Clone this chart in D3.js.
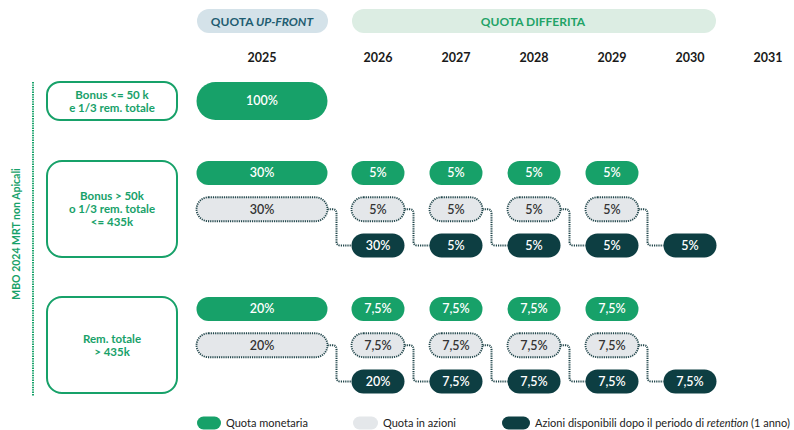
<!DOCTYPE html>
<html><head><meta charset="utf-8">
<script src="https://cdn.jsdelivr.net/npm/d3@7"></script>
<style>
html,body{margin:0;padding:0;background:#fff;}
svg{display:block;font-family:Lato,"Open Sans",sans-serif;}
</style></head>
<body><svg id="chart" width="794" height="430"></svg>
<script>
// ---- data ----
const years = ["2025","2026","2027","2028","2029","2030","2031"];
const groupLabels = [
  ["Bonus <= 50 k","e 1/3 rem. totale"],
  ["Bonus > 50k","o 1/3 rem. totale","<= 435k"],
  ["Rem. totale","> 435k"]
];
// cash (quota monetaria), from 2025
const cashValues = [[100],[30,5,5,5,5],[20,7.5,7.5,7.5,7.5]];
// shares (quota in azioni), from 2025
const shareValues = [[],[30,5,5,5,5],[20,7.5,7.5,7.5,7.5]];
// shares available after retention, from 2026
const releasedValues = [[],[30,5,5,5,5],[20,7.5,7.5,7.5,7.5]];
const headerLabels = ["QUOTA ", "UP-FRONT", "QUOTA DIFFERITA"];
const sideLabel = "MBO 2024 MRT non Apicali";
const legendLabels = ["Quota monetaria","Quota in azioni","Azioni disponibili dopo il periodo di ","retention"," (1 anno)"];

// ---- style ----
const C = {green:"#17a169", dark:"#0d3e42", grey:"#e4e7ea", dot:"#21464b",
  upBg:"#d4e2e9", upTx:"#1f5d71", difBg:"#dcede3", difTx:"#22a367", leg:"#222"};

const svg = d3.select("#chart");
const x = d3.scaleLinear().domain([2025, 2026, 2031]).range([262, 378, 768]);
const pillW = y => +y === 2025 ? 131 : 53;
const groupTop = [82, 161, 297];
const groupH = [38, 96, 96];
const rowY = d3.scalePoint().domain(["cash","shares","released"]).range([12, 84.5]);
const pillH = 24;
const fmt = v => (Number.isInteger(v) ? String(v) : d3.format(".1f")(v).replace(".", ",")) + "%";

// headers
svg.append("rect").attr("x",197).attr("y",9).attr("width",131).attr("height",24).attr("rx",12).attr("fill",C.upBg);
const h1 = svg.append("text").attr("x",262).attr("y",25.5).attr("text-anchor","middle")
  .attr("font-size",12).attr("font-weight",700).attr("fill",C.upTx);
h1.append("tspan").text(headerLabels[0]);
h1.append("tspan").attr("font-style","italic").text(headerLabels[1]);
svg.append("rect").attr("x",352).attr("y",9).attr("width",364).attr("height",24).attr("rx",12).attr("fill",C.difBg);
svg.append("text").attr("x",533).attr("y",25.5).attr("text-anchor","middle")
  .attr("font-size",12).attr("font-weight",700).attr("fill",C.difTx).text(headerLabels[2]);

// years
svg.selectAll("text.year").data(years).join("text").attr("class","year")
  .attr("x", d => x(+d)).attr("y", 61.5).attr("text-anchor","middle")
  .attr("font-size",12.5).attr("font-weight",700).attr("fill","#1a1a1a").text(d => d);

// side label + dotted line
svg.append("line").attr("x1",33).attr("x2",33).attr("y1",82).attr("y2",396)
  .attr("stroke",C.green).attr("stroke-width",2).attr("stroke-dasharray","1.4 1");
svg.append("text").attr("transform","translate(20,234) rotate(-90)").attr("text-anchor","middle")
  .attr("font-size",10.5).attr("font-weight",700).attr("fill",C.green).text(sideLabel);

// group label boxes
groupLabels.forEach((lines, g) => {
  svg.append("rect").attr("x",47).attr("y",groupTop[g]).attr("width",130).attr("height",groupH[g])
    .attr("rx", g === 0 ? 13 : 15).attr("fill","#fff").attr("stroke",C.green).attr("stroke-width",2);
  const cy = groupTop[g] + groupH[g] / 2;
  const lh = 13;
  const t = svg.append("text").attr("text-anchor","middle").attr("font-size",11.5)
    .attr("font-weight",700).attr("fill",C.green);
  lines.forEach((l, i) => {
    t.append("tspan").attr("x",112).attr("y", cy + (i - (lines.length - 1) / 2) * lh + 4).text(l);
  });
});

function pill(yearNum, cy, h, v, fill, dotted, textFill) {
  const w = pillW(yearNum);
  const cx = x(yearNum);
  svg.append("rect").attr("x", cx - w/2).attr("y", cy - h/2).attr("width", w).attr("height", h)
    .attr("rx", h/2).attr("fill", fill)
    .attr("stroke", dotted ? C.dot : "none").attr("stroke-width", dotted ? 1.8 : 0)
    .attr("stroke-dasharray", dotted ? "1.2 1" : null);
  svg.append("text").attr("x", cx).attr("y", cy + 4.4).attr("text-anchor","middle")
    .attr("font-size",12.5).attr("font-weight",600).attr("fill",textFill).text(fmt(v));
}

// connectors first (under pills)
shareValues.forEach((vals, g) => {
  vals.forEach((v, i) => {
    const yr = 2025 + i;
    const x1 = x(yr) + pillW(yr)/2;
    const x2 = x(yr+1) - pillW(yr+1)/2;
    const y1 = groupTop[g] + rowY("shares");
    const y2 = groupTop[g] + rowY("released");
    const xv = x1 + 9, r = 4;
    const p = d3.path();
    p.moveTo(x1, y1); p.lineTo(xv - r, y1); p.quadraticCurveTo(xv, y1, xv, y1 + r);
    p.lineTo(xv, y2 - r); p.quadraticCurveTo(xv, y2, xv + r, y2); p.lineTo(x2, y2);
    svg.append("path").attr("d", p.toString()).attr("fill","none").attr("stroke",C.dot)
      .attr("stroke-width",2).attr("stroke-dasharray","1.2 1");
  });
});

cashValues.forEach((vals, g) => {
  vals.forEach((v, i) => {
    if (g === 0) pill(2025 + i, groupTop[g] + groupH[g]/2, groupH[g], v, C.green, false, "#fff");
    else pill(2025 + i, groupTop[g] + rowY("cash"), pillH, v, C.green, false, "#fff");
  });
});
shareValues.forEach((vals, g) => {
  vals.forEach((v, i) => pill(2025 + i, groupTop[g] + rowY("shares"), pillH, v, C.grey, true, "#333"));
});
releasedValues.forEach((vals, g) => {
  vals.forEach((v, i) => pill(2026 + i, groupTop[g] + rowY("released"), pillH, v, C.dark, false, "#fff"));
});

// legend
const ly = 423;
const leg = [{x:197, w:24, c:C.green, t:[legendLabels[0]]},
             {x:353, w:25, c:C.grey, t:[legendLabels[1]]},
             {x:502, w:28, c:C.dark, t:[legendLabels[2], legendLabels[3], legendLabels[4]]}];
leg.forEach(d => {
  svg.append("rect").attr("x",d.x).attr("y",ly-6.5).attr("width",d.w).attr("height",13).attr("rx",6.5).attr("fill",d.c);
  const t = svg.append("text").attr("x",d.x + d.w + 5).attr("y",ly+4).attr("font-size",11).attr("fill",C.leg);
  d.t.forEach((s, i) => t.append("tspan").attr("font-style", i === 1 ? "italic" : null).text(s));
});
</script></body></html>
